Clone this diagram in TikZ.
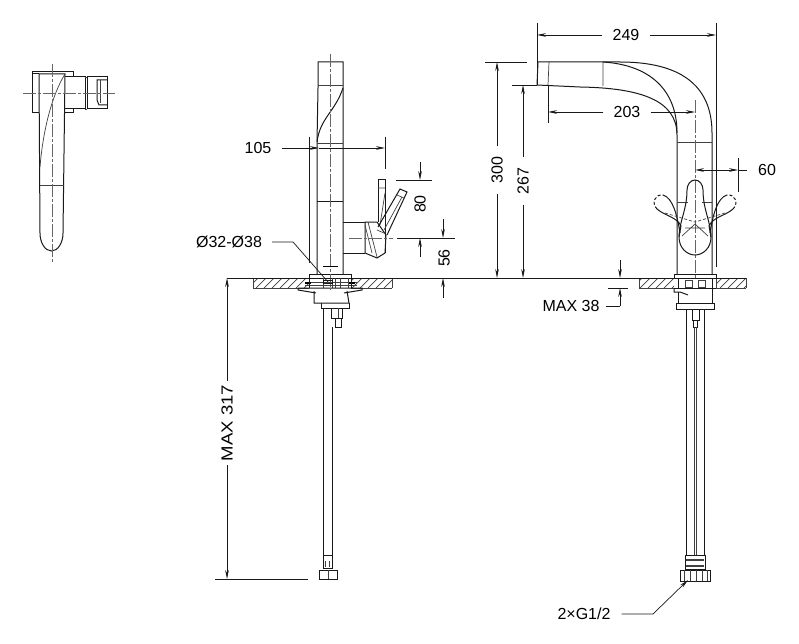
\documentclass[tikz,border=0pt]{standalone}
\usepackage{fontspec}
\setmainfont{Liberation Sans}
\usetikzlibrary{arrows.meta}
\tikzset{
  part/.style={line width=1.0pt,black!90},
  thin part/.style={line width=0.7pt,black!75},
  axis line/.style={line width=0.7pt,black!60,dash pattern=on 13pt off 2pt on 3pt off 2pt},
  dim/.style={line width=0.7pt,black!90},
  dim arrow/.style={dim,-{Stealth[length=9pt,width=3.6pt]}},
  lbl/.style={inner sep=0pt}
}
% hatched worktop between two x values
\newcommand{\slabpiece}[2]{
  \begin{scope}
    \clip (#1,278) rectangle (#2,288);
    \foreach \hx in {200,208,...,800}
      \draw[thin part] (\hx,288) -- (\hx+10,278);
  \end{scope}
  \draw[thin part] (#1,278) -- (#1,288) -- (#2,288);
}
\begin{document}
\begin{tikzpicture}[x=1pt,y=-1pt,font=\fontsize{16}{18}\selectfont]
    \useasboundingbox (0,0) rectangle (799,644);
    % view from above
    \draw[part] (39,74) -- (32,74) -- (32,72) -- (73,72) -- (73,77);
    \draw[part] (39,113) -- (32,113) -- (32,74);
    \draw[part] (65,113) -- (73,113) -- (73,109);
    \draw[part] (39,74) -- (65,74) -- (63,233) arc (0:180:11.5 and 18) -- cycle;
    \draw[thin part] (65,74) .. controls (52,95) and (43,130) .. (40,167);
    \draw[thin part] (40,185) -- (64,185);
    \draw[part] (65,77) -- (85,77) -- (85,109) -- (65,109);
    \draw[part] (87,77) -- (107,77) -- (107,109) -- (87,109) -- cycle;
    \draw[thin part] (85,77) -- (87,77) (85,109) -- (87,109);
    \draw[part] (107,80) -- (97,80) -- (97,100) -- (99,105) -- (107,105);
    \draw[thin part] (100,80) -- (100,103);
    \draw[axis line] (52,64) -- (52,263);
    \draw[axis line] (23,93) -- (115,93);

    % side view, column
    \draw[part] (317,274) -- (317,142) -- (318,88) -- (318,62) -- (343,62) -- (343,88) -- (343,274);
    \draw[thin part] (318,85) -- (343,85);
    \draw[part] (343,88) .. controls (335,112) and (320,118) .. (317,142);
    \draw[thin part] (317,143) -- (343,143);
    \draw[part] (317,202) -- (343,202);
    \draw[part] (309,278) -- (309,274) -- (351,274) -- (351,278);
    \draw[axis line] (330,54) -- (330,290);
    \draw[line width=1pt] (323,266) -- (338,266);
    % side view, valve and lever
    \draw[part] (343,222) -- (365,222) (343,253) -- (365,253);
    \draw[part] (365,222) -- (377,222) -- (386,235) -- (385,253) -- (377,258) -- (365,253) -- cycle;
    \draw[thin part] (365,225) -- (372,253) (368,222) -- (377,257) (377,230) -- (384,233);
    \draw[part] (378,222) -- (378,180) -- (385,180) -- (385,253);
    \draw[thin part] (378,188) -- (385,188) (385,193) -- (380,225);
    \draw[part] (378,227) -- (400,189) -- (407,192) -- (387,235);
    \draw[thin part] (397,195) -- (404,198) (402,197) -- (384,230);
    \draw[axis line] (349,238) -- (393,238);

    % worktop and floor line
    \slabpiece{253}{309}
    \slabpiece{351}{392}
    \slabpiece{639}{674}
    \slabpiece{716}{746}
    \draw[thin part] (392,278) -- (392,288);
    \draw[thin part] (746,278) -- (746,288);
    \draw[part] (227,278) -- (746,278);

    % fitting below the left tap
    \draw[thin part] (305,282) -- (357,282) (305,285) -- (357,285);
    \foreach \ux in {323,332,335,340,348}
      \draw[thin part] (\ux,278) -- (\ux,288);
    \draw[part] (323,280) rectangle (332,283);
    \draw[line width=1.6pt] (305,283) -- (311,283) (349,283) -- (355,283);
    \draw[part] (309,278) -- (309,288) (351,278) -- (351,288);
    \draw[part] (298,288) -- (362,288) -- (362,290) -- (344,293) (298,288) -- (298,290) -- (316,293);
    \draw[part] (314,291) -- (314,303) -- (349,303) -- (347,291);
    \draw[part] (321,303) -- (321,308) -- (349,308) -- (349,303);
    \draw[part] (331,308) -- (331,318) -- (342,318) -- (342,308);
    \draw[part] (335,318) -- (335,327) -- (341,327) -- (341,318);
    \draw[thin part] (338,308) -- (338,318);
    % left hose
    \draw[part] (323,308) -- (323,555) (332,327) -- (332,555);
    \draw[part] (323,555) rectangle (332,568);
    \draw[thin part] (325,561) -- (325,567) (329,561) -- (329,567);
    \draw[part] (319,570) rectangle (337,579);
    \draw[thin part] (328,570) -- (328,579);

    % pull-out spout
    \draw[part] (538,62) -- (620,62) .. controls (680,62) and (712,85) .. (712,133) -- (712,275);
    \draw[part] (538,62) -- (537,85) -- (580,87) .. controls (640,88) and (677,100) .. (677,135) -- (677,275);
    \draw[part] (603,62) .. controls (650,65) and (677,90) .. (677,133);
    \draw[thin part] (549,62) -- (548,85) (603,62) -- (603,86);
    \draw[thin part] (677,142) -- (712,142);
    \draw[thin part] (677,202) -- (688,202) (702,202) -- (712,202);
    \draw[part] (674,278) -- (674,274) -- (716,274) -- (716,278);
    \draw[axis line] (695,100) -- (695,278);

    % handle of the right tap, with both side positions
    \draw[part] (687,190) arc (180:360:8 and 10) .. controls (703,210) and (711,222) .. (711,237)
      .. controls (711,248) and (703,255) .. (695,255) .. controls (687,255) and (679,248) .. (679,237)
      .. controls (679,222) and (687,210) .. (687,190);
    \draw[thin part] (685,228) -- (705,228) (695,224) -- (682,236) (695,224) -- (708,236);
    \foreach \hs in {1,-1}{
      \begin{scope}[xshift=695pt,xscale=\hs]
        \draw[part] (-32,195) .. controls (-22,198) and (-18,215) .. (-15,233);
        \draw[part] (-38,209) .. controls (-30,216) and (-18,217) .. (-14,226) -- (-16,237);
        \draw[part,densely dashed] (-38,209) .. controls (-44,203) and (-40,194) .. (-32,195);
        \draw[thin part,densely dashed] (-30,213) -- (0,222);
      \end{scope}
    }

    % fitting below the right tap
    \draw[part] (678,278) -- (678,288) (712,278) -- (712,288);
    \draw[thin part] (685,280) rectangle (692,287);
    \draw[thin part] (698,280) rectangle (705,287);
    \draw[part] (674,288) -- (716,288);
    \draw[part] (674,288) -- (674,292) -- (680,292) -- (688,295);
    \draw[part] (678,292) -- (678,303) -- (712,303) -- (712,288);
    \draw[part] (676,303) rectangle (714,309);
    \draw[part] (692,309) -- (692,320) -- (699,320) -- (699,309);
    \draw[part] (693,320) -- (693,327) -- (697,327) -- (697,320);
    % right hoses
    \draw[part] (686,309) -- (686,555) (704,309) -- (704,555);
    \draw[thin part] (694,327) -- (694,555) (696,327) -- (696,555);
    \draw[part] (685,555) rectangle (705,569);
    \draw[line width=1.4pt,black!75] (686,560) -- (704,560) (686,566) -- (704,566);
    \draw[part] (680,570) rectangle (710,581);
    \foreach \ux in {684,690,696,702,707}
      \draw[thin part] (\ux,570) -- (\ux,581);

    % labels
    \node[lbl] (w105) at (258,148) {105};
    \node[lbl,rotate=90] (h80) at (420,204) {80};
    \node[lbl,rotate=90] (h56) at (444,258) {56};
    \node[lbl] (dia) at (229,242) {Ø32-Ø38};
    \node[lbl,rotate=90,xscale=1.16] (max317) at (227,423) {MAX 317};
    \node[lbl] (w249) at (626,35) {249};
    \node[lbl] (w203) at (627,112) {203};
    \node[lbl,rotate=90] (h300) at (497,170) {300};
    \node[lbl,rotate=90] (h267) at (523,181) {267};
    \node[lbl] (w60) at (767,170) {60};
    \node[lbl] (max38) at (571,306) {MAX 38};
    \node[lbl] (gland) at (584,614) {2×G1/2};

    % end points of the dimensions
    \coordinate (a105) at (385,148);
    \coordinate (a105m) at (319,148);
    \coordinate (a80t) at (420,180);
    \coordinate (a80b) at (420,238);
    \coordinate (a56t) at (443,238);
    \coordinate (a56b) at (443,278);
    \coordinate (a317t) at (227,278);
    \coordinate (a317b) at (227,579);
    \coordinate (a249l) at (537,35);
    \coordinate (a249r) at (716,35);
    \coordinate (a203l) at (548,112);
    \coordinate (a203r) at (695,112);
    \coordinate (a300t) at (497,62);
    \coordinate (a300b) at (497,278);
    \coordinate (a267t) at (523,85);
    \coordinate (a267b) at (523,278);
    \coordinate (a38t) at (620,278);
    \coordinate (a38b) at (620,288);
    \coordinate (a60l) at (695,170);
    \coordinate (a60r) at (738,170);
    \coordinate (a60o) at (717,170);
    \coordinate (tipg) at (688,580);
    \coordinate (kneeg) at (653,614);
    \coordinate (kneed) at (293,242);
    \coordinate (endd) at (328,282);

    % extension lines
    \draw[dim] (309,137) -- (309,263);
    \draw[dim] (385,137) -- (385,169);
    \draw[dim] (396,180) -- (432,180);
    \draw[dim] (397,238) -- (455,238);
    \draw[dim] (215,579) -- (308,579);
    \draw[dim] (537,23) -- (537,85);
    \draw[dim] (716,23) -- (716,267);
    \draw[dim] (548,85) -- (548,123);
    \draw[dim] (485,62) -- (527,62);
    \draw[dim] (512,85) -- (537,85);
    \draw[dim] (608,288) -- (628,288);
    \draw[dim] (738,158) -- (738,192);

    % dimension lines
    \draw[dim arrow] (w105.east) ++(10,0) -- (a105m);
    \draw[dim arrow] (a105m) -- (a105);
    \draw[dim arrow] (420,162) -- (a80t);
    \draw[dim arrow] (420,257) -- (a80b);
    \draw[dim arrow] (443,219) -- (a56t);
    \draw[dim arrow] (443,298) -- (a56b);
    \draw[dim arrow] (max317.east) ++(0,-4) -- (a317t);
    \draw[dim arrow] (max317.west) ++(0,4) -- (a317b);
    \draw[dim arrow] (w249.west) ++(-10,0) -- (a249l);
    \draw[dim arrow] (w249.east) ++(10,0) -- (a249r);
    \draw[dim arrow] (w203.west) ++(-10,0) -- (a203l);
    \draw[dim arrow] (w203.east) ++(10,0) -- (a203r);
    \draw[dim arrow] (h300.east) ++(0,-10) -- (a300t);
    \draw[dim arrow] (h300.west) ++(0,10) -- (a300b);
    \draw[dim arrow] (h267.east) ++(0,-10) -- (a267t);
    \draw[dim arrow] (h267.west) ++(0,10) -- (a267b);
    \draw[dim arrow] (620,260) -- (a38t);
    \draw[dim arrow] (620,306) -- (a38b);
    \draw[dim] (max38.east) ++(6,0) -- (620,306);
    \draw[dim arrow] (a60o) -- (a60l);
    \draw[dim arrow] (a60o) -- (a60r);
    \draw[dim] (a60r) -- (747,170);

    % leaders
    \draw[dim] (dia.east) ++(10,0) -- (kneed) -- (endd);
    \draw[dim arrow] (gland.east) ++(11,0) -- (kneeg) -- (tipg);
  \end{tikzpicture}
\end{document}
